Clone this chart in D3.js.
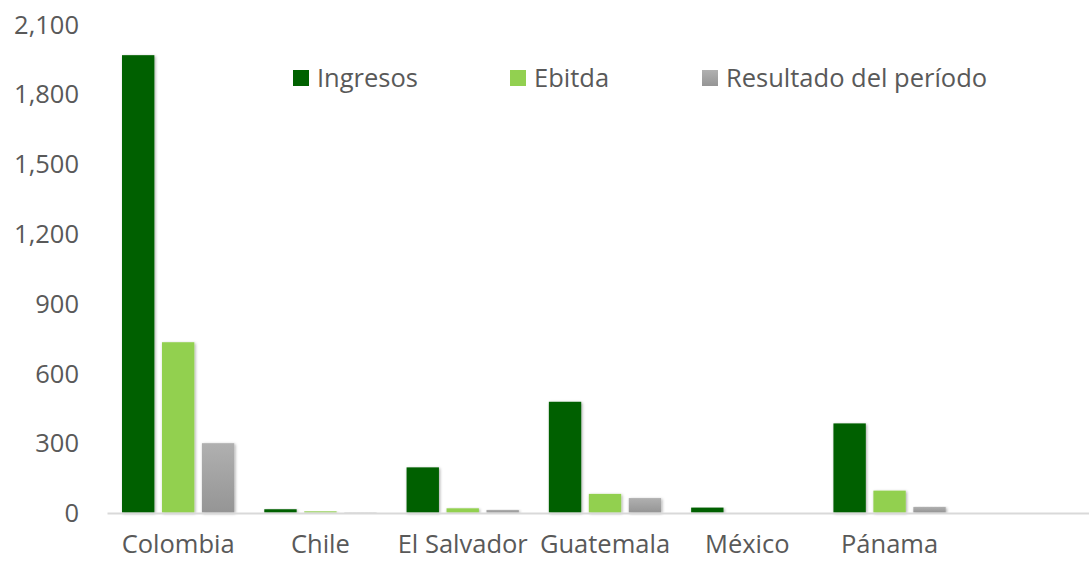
<!DOCTYPE html>
<html>
<head>
<meta charset="utf-8">
<script src="https://cdn.jsdelivr.net/npm/d3@7"></script>
<style>
  body { margin: 0; background: #fff; }
  svg { display: block; font-family: "Open Sans", Lato, sans-serif; }
</style>
</head>
<body>
<div id="chart"></div>
<script>
// Data
const categories = ["Colombia", "Chile", "El Salvador", "Guatemala", "México", "Pánama", ""];
const ingresos  = [1966, 14, 194, 476, 21, 383, null];
const ebitda    = [732, 5, 18, 80, 0, 94, null];
const resultado = [298, 1, 11, 62, 0, 24, null];
const seriesNames = ["Ingresos", "Ebitda", "Resultado del período"];
const yTicks = [0, 300, 600, 900, 1200, 1500, 1800, 2100];

const W = 1089, H = 563;
const FONT = "25.5px";
const svg = d3.select("#chart").append("svg")
  .attr("width", W).attr("height", H);

const defs = svg.append("defs");
const grad = defs.append("linearGradient")
  .attr("id", "grayGrad").attr("x1", 0).attr("y1", 0).attr("x2", 0).attr("y2", 1);
grad.append("stop").attr("offset", "0%").attr("stop-color", "#b0b0b0");
grad.append("stop").attr("offset", "100%").attr("stop-color", "#959595");

const shadow = defs.append("filter").attr("id", "shadow")
  .attr("x", "-30%").attr("y", "-10%").attr("width", "160%").attr("height", "130%");
shadow.append("feDropShadow")
  .attr("dx", 1).attr("dy", 1).attr("stdDeviation", 1.6)
  .attr("flood-color", "#000").attr("flood-opacity", 0.35);

const colors = ["#006100", "#92d050", "url(#grayGrad)"];

// Scales
const x = d3.scaleBand()
  .domain(d3.range(categories.length))
  .range([107, 1103])
  .paddingInner(0).paddingOuter(0);

const y = d3.scaleLinear().domain([0, 2100]).range([512.5, 24]);

const sub = d3.scaleBand()
  .domain(d3.range(3))
  .range([15, x.bandwidth() - 15])
  .paddingInner(0.19);

// Y axis labels (no line)
const yAxis = svg.append("g")
  .attr("transform", "translate(79,0)")
  .call(d3.axisLeft(y).tickValues(yTicks).tickSize(0).tickPadding(0)
    .tickFormat(d3.format(",")));
yAxis.select(".domain").remove();
yAxis.selectAll("text")
  .attr("fill", "#595959")
  .attr("dy", "0.36em")
  .style("font-size", FONT)
  .style("font-family", "'Open Sans', Lato, sans-serif");

// Bars
const rows = categories.map((c, i) => ({ i, vals: [ingresos[i], ebitda[i], resultado[i]] }));
const groups = svg.append("g").selectAll("g")
  .data(rows).join("g")
  .attr("transform", d => `translate(${x(d.i)},0)`);

groups.selectAll("rect")
  .data(d => d.vals.map((v, k) => ({ v, k })).filter(e => e.v != null && e.v > 0))
  .join("rect")
  .attr("x", e => sub(e.k))
  .attr("width", sub.bandwidth())
  .attr("y", e => y(e.v))
  .attr("height", e => y(0) - y(e.v))
  .attr("fill", e => colors[e.k])
  .attr("filter", "url(#shadow)");

// X axis
const xAxis = svg.append("g")
  .attr("transform", `translate(0,${y(0) + 0.5})`)
  .call(d3.axisBottom(x).tickSize(0).tickPadding(0)
    .tickFormat(i => categories[i]));
xAxis.select(".domain").attr("stroke", "#d9d9d9").attr("stroke-width", 2);
xAxis.selectAll("text")
  .attr("fill", "#595959")
  .attr("dy", null)
  .attr("y", 40)
  .style("font-size", FONT)
  .style("font-family", "'Open Sans', Lato, sans-serif");

// Legend
const legendX = [293, 510, 702];
const legend = svg.append("g").selectAll("g")
  .data(seriesNames).join("g")
  .attr("transform", (d, i) => `translate(${legendX[i]},70)`);
legend.append("rect")
  .attr("width", 16).attr("height", 16)
  .attr("fill", (d, i) => colors[i]);
legend.append("text")
  .attr("x", 24).attr("y", 17)
  .attr("fill", "#595959")
  .style("font-size", FONT)
  .text(d => d);
</script>
</body>
</html>
